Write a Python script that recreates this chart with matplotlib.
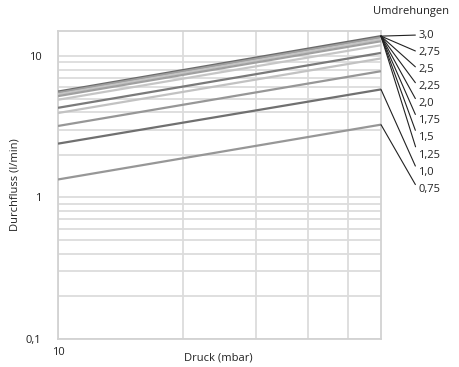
import matplotlib.pyplot as plt
import numpy as np

plt.rcParams['font.family'] = ['Open Sans', 'DejaVu Sans']

# data (log-log, straight lines)
druck = [10, 60]
umdrehungen = ['3,0', '2,75', '2,5', '2,25', '2,0', '1,75', '1,5', '1,25', '1,0', '0,75']
flow_10 = [5.6, 5.5, 5.35, 5.2, 4.9, 4.3, 3.95, 3.2, 2.4, 1.34]
flow_60 = [13.8, 13.5, 13.1, 12.7, 11.9, 10.5, 9.6, 7.8, 5.8, 3.27]
colors = ['#6a6a6a', '#9e9e9e', '#c4c4c4', '#a0a0a0', '#c6c6c6',
          '#7a7a7a', '#c2c2c2', '#979797', '#707070', '#979797']

fig = plt.figure(figsize=(4.59, 3.67), dpi=100)
ax = fig.add_axes([58/459, 1-339/367, 323/459, 308/367])

grid_c = '#dcdcdc'
for i in range(len(umdrehungen)):
    ax.plot(druck, [flow_10[i], flow_60[i]], color=colors[i], lw=1.6,
            solid_capstyle='butt', zorder=3)

ax.set_xscale('log')
ax.set_yscale('log')
ax.set_xlim(10, 60)
ax.set_ylim(0.1, 15)

ax.set_xticks([10, 20, 30, 40, 50])
ax.set_xticklabels(['10', '', '', '', ''])
ax.set_xticks([], minor=True)
ax.set_yticks([0.1, 1, 10])
ax.set_yticklabels(['0,1', '1', '10'])
ax.set_yticks([v * d for d in [0.1, 1] for v in range(2, 10)], minor=True)
ax.yaxis.set_minor_formatter(plt.NullFormatter())
ax.tick_params(which='both', length=0, labelsize=8, colors='#222222')
ax.tick_params(axis='x', pad=6)
ax.tick_params(axis='y', pad=12)
ax.grid(True, which='major', color=grid_c, lw=1.3, zorder=0)
ax.grid(True, which='minor', axis='y', color=grid_c, lw=1.3, zorder=0)
for s in ax.spines.values():
    s.set_color('#d2d2d2')
    s.set_linewidth(1.3)

fig.text(218/459, 1-358/367, 'Druck (mbar)', fontsize=8, color='#222222',
         ha='center', va='center')
fig.text(15/459, 1-185/367, 'Durchfluss (l/min)', fontsize=8, color='#222222',
         ha='center', va='center', rotation=90)

# leader lines to the labels on the right
ax.text(1.093, 1.062, 'Umdrehungen', transform=ax.transAxes, fontsize=8,
        ha='center', va='center', color='#222222')
for i, lab in enumerate(umdrehungen):
    start = flow_60[i] if flow_60[i] < 7 else flow_60[0]
    ax.annotate(lab, xy=(60, start), xycoords='data',
                xytext=(1.115, 0.987 - i * 0.0557), textcoords='axes fraction',
                fontsize=8, ha='left', va='center', color='#222222',
                arrowprops=dict(arrowstyle='-', color='#222222', lw=0.8,
                                shrinkA=0, shrinkB=0, relpos=(0, 0.5)),
                annotation_clip=False)

fig.savefig('out.png', dpi=100)
